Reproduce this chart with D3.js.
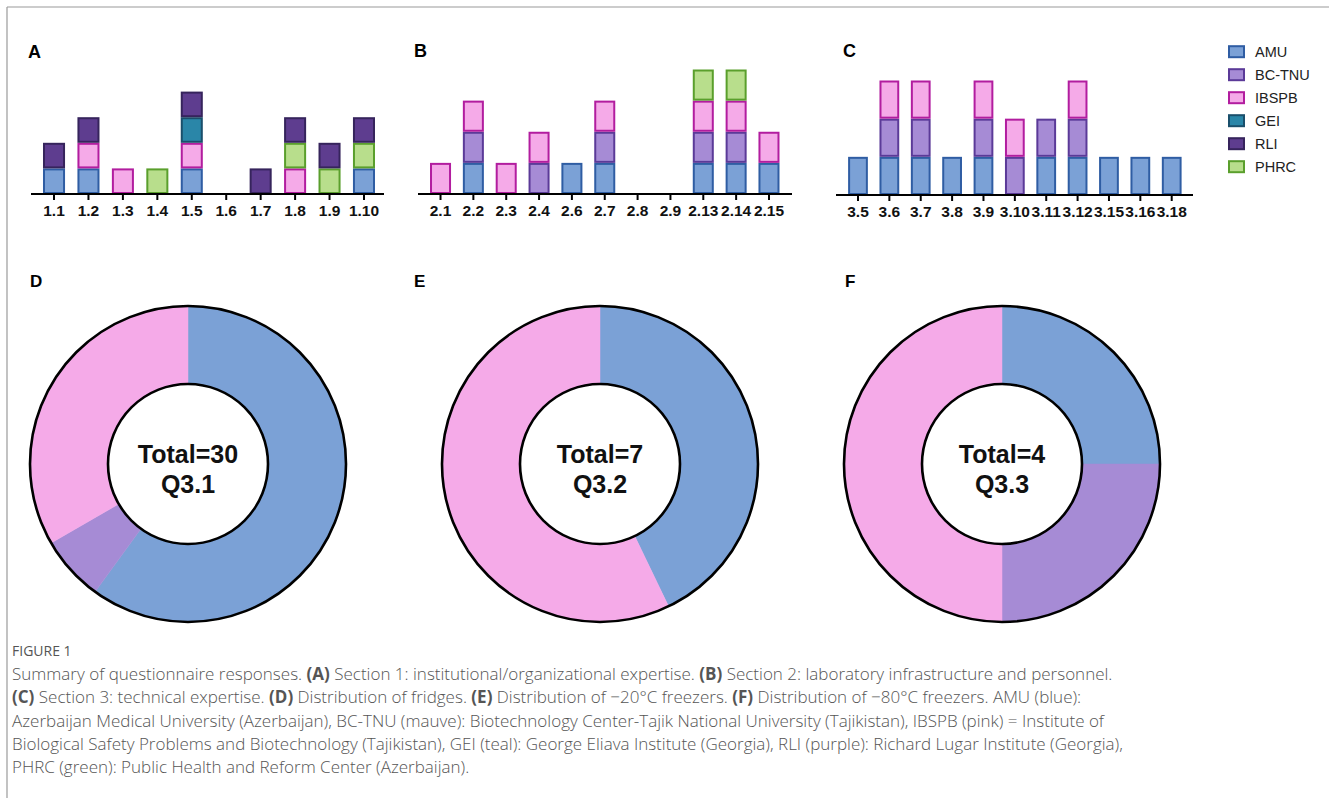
<!DOCTYPE html>
<html>
<head>
<meta charset="utf-8">
<script src="https://cdn.jsdelivr.net/npm/d3@7"></script>
<style>
  html, body { margin: 0; padding: 0; background: #fff; }
  svg { display: block; }
</style>
</head>
<body>
<svg id="fig" width="1329" height="798"></svg>
<script>
// Institutions, in stacking order (bottom to top)
const institutions = ["AMU", "BC-TNU", "IBSPB", "GEI", "PHRC", "RLI"];
const legendOrder = ["AMU", "BC-TNU", "IBSPB", "GEI", "RLI", "PHRC"];
const fills = { "AMU": "#7ba1d6", "BC-TNU": "#a68bd5", "IBSPB": "#f5aae8", "GEI": "#2a86a8", "RLI": "#5e3d8f", "PHRC": "#b8de8c" };
const strokes = { "AMU": "#2f5da3", "BC-TNU": "#5b3a98", "IBSPB": "#b21d9f", "GEI": "#1a4f6b", "RLI": "#36245c", "PHRC": "#5a9f2c" };

// Section 1 questions: which institutions answered (1 = yes)
const qA = ["1.1", "1.2", "1.3", "1.4", "1.5", "1.6", "1.7", "1.8", "1.9", "1.10"];
const aAMU  = [1, 1, 0, 0, 1, 0, 0, 0, 0, 1];
const aBC   = [0, 0, 0, 0, 0, 0, 0, 0, 0, 0];
const aIB   = [0, 1, 1, 0, 1, 0, 0, 1, 0, 0];
const aGEI  = [0, 0, 0, 0, 1, 0, 0, 0, 0, 0];
const aPHRC = [0, 0, 0, 1, 0, 0, 0, 1, 1, 1];
const aRLI  = [1, 1, 0, 0, 1, 0, 1, 1, 1, 1];

// Section 2
const qB = ["2.1", "2.2", "2.3", "2.4", "2.6", "2.7", "2.8", "2.9", "2.13", "2.14", "2.15"];
const bAMU  = [0, 1, 0, 0, 1, 1, 0, 0, 1, 1, 1];
const bBC   = [0, 1, 0, 1, 0, 1, 0, 0, 1, 1, 0];
const bIB   = [1, 1, 1, 1, 0, 1, 0, 0, 1, 1, 1];
const bGEI  = [0, 0, 0, 0, 0, 0, 0, 0, 0, 0, 0];
const bPHRC = [0, 0, 0, 0, 0, 0, 0, 0, 1, 1, 0];
const bRLI  = [0, 0, 0, 0, 0, 0, 0, 0, 0, 0, 0];

// Section 3
const qC = ["3.5", "3.6", "3.7", "3.8", "3.9", "3.10", "3.11", "3.12", "3.15", "3.16", "3.18"];
const cAMU  = [1, 1, 1, 1, 1, 0, 1, 1, 1, 1, 1];
const cBC   = [0, 1, 1, 0, 1, 1, 1, 1, 0, 0, 0];
const cIB   = [0, 1, 1, 0, 1, 1, 0, 1, 0, 0, 0];
const cGEI  = [0, 0, 0, 0, 0, 0, 0, 0, 0, 0, 0];
const cPHRC = [0, 0, 0, 0, 0, 0, 0, 0, 0, 0, 0];
const cRLI  = [0, 0, 0, 0, 0, 0, 0, 0, 0, 0, 0];

// Storage equipment counts per institution
const donutKeys = ["AMU", "BC-TNU", "IBSPB"];
const fridges   = [18, 2, 10];   // Q3.1
const freezer20 = [3, 0, 4];     // Q3.2
const freezer80 = [1, 1, 2];     // Q3.3

const svg = d3.select("#fig");
const FONT = "Arial, 'Liberation Sans', Helvetica, sans-serif";

// page frame
svg.append("line").attr("x1", 7).attr("x2", 1329).attr("y1", 7).attr("y2", 7)
  .attr("stroke", "#9a9a9a").attr("stroke-width", 1.2);
svg.append("line").attr("x1", 7).attr("x2", 7).attr("y1", 7).attr("y2", 798)
  .attr("stroke", "#9a9a9a").attr("stroke-width", 1.2);

function table(cats, cols) {
  return cats.map((c, i) => {
    const row = { q: c };
    institutions.forEach((k, j) => row[k] = cols[j][i]);
    return row;
  });
}

function barPanel(opt) {
  const rows = table(opt.cats, opt.cols);
  const x = d3.scaleBand().domain(opt.cats).range(opt.xr).paddingInner(opt.pad).paddingOuter(opt.pad / 2);
  const y = d3.scaleLinear().domain([0, opt.ymax]).range([opt.base, opt.top]);
  const series = d3.stack().keys(institutions)(rows);
  const g = svg.append("g");
  series.forEach(s => {
    g.append("g").selectAll("rect")
      .data(s.filter(d => d[1] > d[0]))
      .join("rect")
      .attr("x", d => x(d.data.q) + 1)
      .attr("width", x.bandwidth() - 2)
      .attr("y", d => y(d[1]) + 1)
      .attr("height", d => y(d[0]) - y(d[1]) - 2)
      .attr("fill", fills[s.key])
      .attr("stroke", strokes[s.key])
      .attr("stroke-width", 2);
  });
  const ax = g.append("g").attr("transform", `translate(0,${opt.base})`)
    .call(d3.axisBottom(x).tickSize(6).tickSizeOuter(0).tickPadding(5));
  ax.select(".domain").remove();
  ax.selectAll(".tick line").attr("stroke", "#000").attr("stroke-width", 2);
  ax.selectAll(".tick text").attr("font-family", FONT).attr("font-weight", "bold")
    .style("font-size", "15.5px").attr("fill", "#111");
  g.append("line").attr("x1", opt.axr[0]).attr("x2", opt.axr[1])
    .attr("y1", opt.base).attr("y2", opt.base).attr("stroke", "#000").attr("stroke-width", 2.2);
  svg.append("text").attr("x", opt.lx).attr("y", opt.ly).text(opt.label)
    .attr("font-family", FONT).attr("font-weight", "bold").attr("font-size", 18);
}

barPanel({ cats: qA, cols: [aAMU, aBC, aIB, aGEI, aPHRC, aRLI], xr: [36.8, 381.2], pad: 0.36,
  ymax: 4, base: 194, top: 91.6, axr: [31, 384], label: "A", lx: 28, ly: 58 });
barPanel({ cats: qB, cols: [bAMU, bBC, bIB, bGEI, bPHRC, bRLI], xr: [424.1, 785.4], pad: 0.36,
  ymax: 4, base: 194, top: 69.5, axr: [418, 792], label: "B", lx: 414, ly: 57 });
barPanel({ cats: qC, cols: [cAMU, cBC, cIB, cGEI, cPHRC, cRLI], xr: [842.3, 1187.4], pad: 0.37,
  ymax: 3, base: 195, top: 80.5, axr: [836, 1193], label: "C", lx: 843, ly: 57 });

// legend
const lg = svg.append("g");
legendOrder.forEach((k, i) => {
  const cy = 51.7 + i * 23;
  lg.append("rect").attr("x", 1229).attr("y", cy - 5.5).attr("width", 15).attr("height", 11)
    .attr("fill", fills[k]).attr("stroke", strokes[k]).attr("stroke-width", 2);
  lg.append("text").attr("x", 1255).attr("y", cy + 5).text(k)
    .attr("font-family", FONT).attr("font-size", 14.5).attr("fill", "#222");
});

// donuts
function donut(opt) {
  const data = donutKeys.map((k, i) => ({ key: k, v: opt.values[i] }));
  const total = d3.sum(opt.values);
  const pie = d3.pie().value(d => d.v).sort(null);
  const arc = d3.arc().innerRadius(80).outerRadius(158);
  const g = svg.append("g").attr("transform", `translate(${opt.cx},${opt.cy})`);
  g.selectAll("path").data(pie(data).filter(d => d.data.v > 0)).join("path")
    .attr("d", arc).attr("fill", d => fills[d.data.key])
    .attr("stroke", d => fills[d.data.key]).attr("stroke-width", 0.5);
  g.append("circle").attr("r", 158).attr("fill", "none").attr("stroke", "#000").attr("stroke-width", 2.6);
  g.append("circle").attr("r", 80).attr("fill", "#fff").attr("stroke", "#000").attr("stroke-width", 2.6);
  g.append("text").attr("text-anchor", "middle").attr("y", -1).text(`Total=${total}`)
    .attr("font-family", FONT).attr("font-weight", "bold").attr("font-size", 25).attr("fill", "#111");
  g.append("text").attr("text-anchor", "middle").attr("y", 29).text(opt.q)
    .attr("font-family", FONT).attr("font-weight", "bold").attr("font-size", 25).attr("fill", "#111");
  svg.append("text").attr("x", opt.lx).attr("y", 287).text(opt.label)
    .attr("font-family", FONT).attr("font-weight", "bold").attr("font-size", 17);
}
donut({ values: fridges, cx: 188, cy: 464, q: "Q3.1", label: "D", lx: 30 });
donut({ values: freezer20, cx: 600, cy: 464, q: "Q3.2", label: "E", lx: 414 });
donut({ values: freezer80, cx: 1002, cy: 464, q: "Q3.3", label: "F", lx: 845 });

// caption
const CAP = "'Open Sans', 'Noto Sans', sans-serif";
svg.append("text").attr("x", 12).attr("y", 656).text("FIGURE 1")
  .attr("font-family", CAP).attr("font-size", 14).attr("fill", "#555");
const capLines = [
  [["Summary of questionnaire responses. ", 0], ["(A)", 1], [" Section 1: institutional/organizational expertise. ", 0], ["(B)", 1], [" Section 2: laboratory infrastructure and personnel.", 0]],
  [["(C)", 1], [" Section 3: technical expertise. ", 0], ["(D)", 1], [" Distribution of fridges. ", 0], ["(E)", 1], [" Distribution of \u221220\u00b0C freezers. ", 0], ["(F)", 1], [" Distribution of \u221280\u00b0C freezers. AMU (blue):", 0]],
  [["Azerbaijan Medical University (Azerbaijan), BC-TNU (mauve): Biotechnology Center-Tajik National University (Tajikistan), IBSPB (pink) = Institute of", 0]],
  [["Biological Safety Problems and Biotechnology (Tajikistan), GEI (teal): George Eliava Institute (Georgia), RLI (purple): Richard Lugar Institute (Georgia),", 0]],
  [["PHRC (green): Public Health and Reform Center (Azerbaijan).", 0]]
];
capLines.forEach((parts, i) => {
  const t = svg.append("text").attr("x", 12).attr("y", 680 + i * 23.3)
    .attr("font-family", CAP).attr("font-size", 17).attr("font-weight", 300).attr("fill", "#555");
  parts.forEach(p => t.append("tspan").text(p[0]).attr("font-weight", p[1] ? 700 : 300));
});
</script>
</body>
</html>
